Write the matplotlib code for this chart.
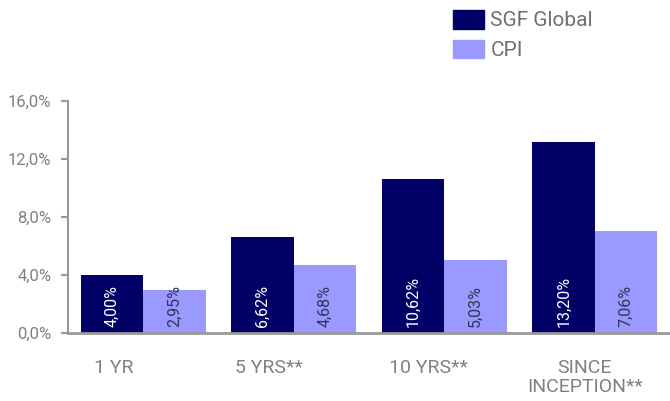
import matplotlib
matplotlib.use("Agg")
import matplotlib.pyplot as plt
import numpy as np
from matplotlib.patches import Patch
from matplotlib.transforms import ScaledTranslation

categories = ["1 YR", "5 YRS**", "10 YRS**", "SINCE\nINCEPTION**"]
sgf = [4.00, 6.62, 10.62, 13.20]
cpi = [2.95, 4.68, 5.03, 7.06]
series_names = ["SGF Global", "CPI"]
yticks = [0, 4, 8, 12, 16]

plt.rcParams['font.family'] = ['Roboto', 'DejaVu Sans']
c_sgf = "#000066"
c_cpi = "#9999FF"
grey = "#808080"

fig = plt.figure(figsize=(6.70, 4.01), dpi=100)
ax = fig.add_axes([68/670, (401-333)/401, 1 - 68/670, (333-101)/401])

x = np.arange(len(categories))
w = 0.415
ax.bar(x - w/2, sgf, w, color=c_sgf, zorder=2)
ax.bar(x + w/2, cpi, w, color=c_cpi, zorder=2)

for xi, v in zip(x - w/2, sgf):
    ax.annotate(f"{v:.2f}%".replace(".", ","), (xi, 0), xytext=(0, 6), textcoords="offset pixels",
                rotation=90, ha="center", va="bottom", color="white", fontsize=11.5)
for xi, v in zip(x + w/2, cpi):
    ax.annotate(f"{v:.2f}%".replace(".", ","), (xi, 0), xytext=(0, 6), textcoords="offset pixels",
                rotation=90, ha="center", va="bottom", color="#333355", fontsize=11.5)

ax.set_xlim(-0.5, len(categories) - 0.5)
ax.set_ylim(0, 16)
ax.set_yticks(yticks)
ax.set_yticklabels([f"{t:.1f}%".replace(".", ",") for t in yticks], color=grey, fontsize=12)
ax.set_xticks(x)
ax.set_xticklabels(categories, color=grey, fontsize=14, linespacing=1.05)
ax.tick_params(axis="x", length=0, pad=19)
ax.tick_params(axis="y", length=5, width=1.5, color="#999999", pad=7)
# label offsets (pixels) as in the reference layout
label_shift_px = [-30, -25, -16, -10]
for lab, dx in zip(ax.get_xticklabels(), label_shift_px):
    lab.set_transform(lab.get_transform() + ScaledTranslation(dx / 100, 0, fig.dpi_scale_trans))

for s in ["top", "right"]:
    ax.spines[s].set_visible(False)
ax.spines["left"].set_color("#999999")
ax.spines["left"].set_linewidth(1.5)
ax.spines["bottom"].set_color("#999999")
ax.spines["bottom"].set_linewidth(2)

handles = [Patch(color=c_sgf), Patch(color=c_cpi)]
fig.legend(handles, series_names, loc="upper left", bbox_to_anchor=(453/670, 1 - 10/401),
           frameon=False, fontsize=15, labelcolor="#707070", handlelength=1.5, handleheight=1.0,
           handletextpad=0.3, labelspacing=0.45, borderaxespad=0, borderpad=0)

fig.savefig("out.png", dpi=100)
